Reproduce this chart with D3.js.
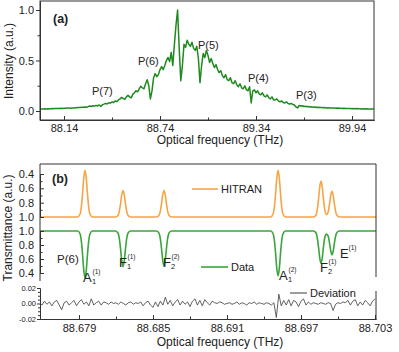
<!DOCTYPE html>
<html>
<head>
<meta charset="utf-8">
<script src="https://cdn.jsdelivr.net/npm/d3@7/dist/d3.min.js"></script>
<style>
body { margin: 0; background: #fff; }
text { font-family: "Liberation Sans", Arial, sans-serif; fill: #222; }
</style>
</head>
<body>
<svg id="chart" width="399" height="352"></svg>
<script>
//----- data, panel (a): comb spectrum sampled every 0.01 THz
var aStart = 87.99, aStep = 0.01;
var intensity = [
  0.02,0.021,0.019,0.022,0.02,0.023,0.021,0.024,0.022,0.025,
  0.024,0.026,0.025,0.027,0.026,0.028,0.027,0.029,0.03,0.028,
  0.031,0.03,0.033,0.032,0.035,0.034,0.037,0.036,0.04,0.038,
  0.043,0.05,0.045,0.052,0.048,0.056,0.05,0.06,0.045,0.062,
  0.068,0.075,0.07,0.082,0.078,0.09,0.085,0.1,0.093,0.11,
  0.12,0.135,0.125,0.115,0.14,0.155,0.14,0.13,0.165,0.18,
  0.2,0.19,0.22,0.245,0.23,0.22,0.27,0.31,0.25,0.12,
  0.2,0.33,0.37,0.34,0.36,0.41,0.44,0.41,0.45,0.5,
  0.53,0.49,0.58,0.45,0.66,0.85,1.0,0.62,0.3,0.45,
  0.66,0.63,0.7,0.66,0.64,0.68,0.62,0.6,0.64,0.52,
  0.28,0.45,0.57,0.53,0.6,0.55,0.48,0.52,0.47,0.43,
  0.46,0.41,0.38,0.4,0.35,0.33,0.36,0.31,0.3,0.33,
  0.28,0.27,0.3,0.26,0.24,0.27,0.23,0.22,0.25,0.21,
  0.2,0.24,0.08,0.2,0.21,0.18,0.2,0.17,0.16,0.18,
  0.15,0.14,0.16,0.13,0.12,0.14,0.11,0.11,0.12,0.1,
  0.09,0.1,0.085,0.08,0.09,0.075,0.07,0.075,0.065,0.06,
  0.04,0.03,0.055,0.05,0.052,0.045,0.047,0.042,0.044,0.04,
  0.041,0.037,0.039,0.035,0.037,0.034,0.035,0.032,0.034,0.031,
  0.032,0.03,0.031,0.029,0.03,0.028,0.029,0.027,0.028,0.026,
  0.027,0.025,0.026,0.024,0.025,0.023,0.024,0.023,0.024,0.022,
  0.023,0.021,0.022,0.021,0.022,0.02,0.021,0.02,0.021,0.02
];
var aTicks = [88.14, 88.74, 89.34, 89.94];
var aMinor = [88.44, 89.04, 89.64];
var aYTicks = [0, 0.5, 1.0];
var aYMinor = [0.25, 0.75];

//----- data, panel (b): [frequency THz, transmittance]
var hitran = [
  [88.6755,1],
  [88.67889,1],[88.67909,0.959],[88.67919,0.864],[88.67929,0.675],[88.67939,0.454],[88.67949,0.35],
  [88.67959,0.454],[88.67969,0.675],[88.67979,0.864],[88.67989,0.959],[88.68009,1],
  [88.68197,1],[88.68217,0.977],[88.68227,0.922],[88.68237,0.815],[88.68247,0.689],[88.68257,0.63],
  [88.68267,0.689],[88.68277,0.815],[88.68287,0.922],[88.68297,0.977],[88.68317,1],
  [88.68529,1],[88.68549,0.977],[88.68559,0.922],[88.68569,0.815],[88.68579,0.689],[88.68589,0.63],
  [88.68599,0.689],[88.68609,0.815],[88.68619,0.922],[88.68629,0.977],[88.68649,1],
  [88.69454,1],[88.69474,0.959],[88.69484,0.864],[88.69494,0.675],[88.69504,0.454],[88.69514,0.35],
  [88.69524,0.454],[88.69534,0.675],[88.69544,0.864],[88.69554,0.959],[88.69574,1],
  [88.69802,1],[88.69822,0.969],[88.69832,0.895],[88.69842,0.75],[88.69852,0.58],[88.69862,0.5],
  [88.69872,0.58],[88.69882,0.75],[88.69892,0.893],[88.69907,0.965],[88.69921,0.923],[88.69931,0.82],
  [88.69941,0.698],[88.69951,0.64],[88.69961,0.698],[88.69971,0.82],[88.69981,0.924],[88.69991,0.977],[88.70011,1],
  [88.7035,1]
];
var measured = [
  [88.6755,1],
  [88.67889,1],[88.67909,0.958],[88.67919,0.859],[88.67929,0.665],[88.67939,0.437],[88.67949,0.33],
  [88.67959,0.437],[88.67969,0.665],[88.67979,0.859],[88.67989,0.958],[88.68009,1],
  [88.68197,1],[88.68217,0.968],[88.68227,0.893],[88.68237,0.745],[88.68247,0.572],[88.68257,0.49],
  [88.68267,0.572],[88.68277,0.745],[88.68287,0.893],[88.68297,0.968],[88.68317,1],
  [88.68529,1],[88.68549,0.969],[88.68559,0.895],[88.68569,0.75],[88.68579,0.58],[88.68589,0.5],
  [88.68599,0.58],[88.68609,0.75],[88.68619,0.895],[88.68629,0.969],[88.68649,1],
  [88.69454,1],[88.69474,0.96],[88.69484,0.866],[88.69494,0.68],[88.69504,0.462],[88.69514,0.36],
  [88.69524,0.462],[88.69534,0.68],[88.69544,0.866],[88.69554,0.96],[88.69574,1],
  [88.69802,1],[88.69822,0.971],[88.69832,0.903],[88.69842,0.77],[88.69852,0.614],[88.69862,0.54],
  [88.69872,0.614],[88.69882,0.77],[88.69892,0.9],[88.69907,0.955],[88.69921,0.925],[88.69931,0.83],
  [88.69941,0.714],[88.69951,0.66],[88.69961,0.714],[88.69971,0.83],[88.69981,0.929],[88.69991,0.979],[88.70011,1],
  [88.7035,1]
];
// residual, sampled every 0.0002 THz
var devStart = 88.6758, devStep = 0.0002;
var deviation = [
  0.001,-0.002,0.003,-0.001,0.002,-0.003,0.002,0.004,-0.002,-0.008,
  0.001,0.003,-0.002,0.001,0.004,-0.003,0.002,0.005,-0.001,0.002,
  -0.003,0.006,-0.002,0.001,0.003,-0.002,0.002,0.001,-0.001,0.002,
  0.0,0.001,-0.001,0.002,0.0,-0.002,0.001,0.002,-0.001,0.001,
  0.0,0.002,-0.003,0.001,0.003,-0.002,-0.005,0.002,-0.004,0.003,
  -0.002,0.008,-0.001,0.004,-0.003,0.002,0.005,-0.002,0.003,-0.001,
  0.002,-0.004,0.003,0.006,-0.002,0.004,-0.003,0.005,0.001,-0.002,
  0.003,0.001,0.0,0.002,0.001,-0.001,0.0,0.001,-0.001,0.0,
  0.002,-0.001,0.001,0.0,-0.002,0.001,0.0,0.002,-0.001,0.001,
  0.0,-0.001,0.001,0.0,-0.002,0.001,-0.018,0.012,-0.003,0.004,
  -0.002,0.005,-0.003,0.004,0.002,-0.004,0.003,0.006,-0.002,0.002,
  -0.001,0.001,0.0,-0.001,0.001,0.0,-0.001,0.001,0.0,-0.009,
  -0.001,0.001,0.0,0.002,0.001,0.004,-0.002,0.003,0.005,-0.003,
  0.002,-0.002,0.004,0.001,-0.003,0.003,0.006
];
var bTicks = [88.679, 88.685, 88.691, 88.697, 88.703];
var bMinor = [88.682, 88.688, 88.694, 88.700];
var tTicks = [0.4, 0.6, 0.8, 1.0];
var tMinor = [0.5, 0.7, 0.9];
var devTicks = [-0.02, 0, 0.02];
var devMinor = [-0.015, -0.01, -0.005, 0.005, 0.01, 0.015];

var ORANGE = "#f6a444", GREEN_A = "#1f8a1f", GREEN_B = "#3aa53a", INK = "#333";

var svg = d3.select("#chart");

//----- panel (a)
var xa = d3.scaleLinear().domain([87.99, 90.0775]).range([40, 374]);
var ya = d3.scaleLinear().domain([-0.089, 1.089]).range([120, 1]);

svg.append("clipPath").attr("id", "clipA")
  .append("rect").attr("x", 40).attr("y", 1).attr("width", 334).attr("height", 119);

var lineA = d3.line()
  .x(function(d, i) { return xa(aStart + i * aStep); })
  .y(function(d) { return ya(d); });

svg.append("path")
  .datum(intensity)
  .attr("clip-path", "url(#clipA)")
  .attr("d", lineA)
  .attr("fill", "none")
  .attr("stroke", GREEN_A)
  .attr("stroke-width", 1.5)
  .attr("stroke-linejoin", "round");

svg.append("rect").attr("x", 40).attr("y", 1).attr("width", 334).attr("height", 119)
  .attr("fill", "none").attr("stroke", INK).attr("stroke-width", 1);

svg.append("g").attr("transform", "translate(0,120)")
  .call(d3.axisBottom(xa).tickValues(aTicks).tickFormat(d3.format(".2f"))
    .tickSizeInner(-4).tickSizeOuter(0).tickPadding(4));
svg.append("g").attr("transform", "translate(0,120)")
  .call(d3.axisBottom(xa).tickValues(aMinor).tickFormat("").tickSizeInner(-2.5).tickSizeOuter(0));

svg.append("g").attr("transform", "translate(40,0)")
  .call(d3.axisLeft(ya).tickValues(aYTicks).tickFormat(d3.format(".1f"))
    .tickSizeInner(4).tickSizeOuter(0).tickPadding(2));
svg.append("g").attr("transform", "translate(40,0)")
  .call(d3.axisLeft(ya).tickValues(aYMinor).tickFormat("").tickSizeInner(2.5).tickSizeOuter(0));

// band labels
var aNotes = [["P(7)", 92, 95], ["P(6)", 138, 65], ["P(5)", 198, 49], ["P(4)", 248, 82], ["P(3)", 296, 99]];
svg.selectAll(".pnote").data(aNotes).enter().append("text")
  .attr("x", function(d) { return d[1]; })
  .attr("y", function(d) { return d[2]; })
  .attr("font-size", 11)
  .text(function(d) { return d[0]; });

svg.append("text").attr("x", 53).attr("y", 23).attr("font-size", 12.5)
  .attr("font-weight", "bold").text("(a)");
svg.append("text").attr("x", 220).attr("y", 144).attr("text-anchor", "middle")
  .attr("font-size", 12).text("Optical frequency (THz)");
svg.append("text").attr("transform", "translate(13,61) rotate(-90)")
  .attr("text-anchor", "middle").attr("font-size", 12).text("Intensity (a.u.)");

//----- panel (b)
var xb = d3.scaleLinear().domain([88.67584, 88.70308]).range([40, 376]);
var yO = d3.scaleLinear().domain([0.4, 1.0]).range([174, 217]);
var yG = d3.scaleLinear().domain([1.0, 0.4]).range([231, 273]);
var yD = d3.scaleLinear().domain([-0.02, 0.02]).range([319, 288]);

svg.append("clipPath").attr("id", "clipB")
  .append("rect").attr("x", 40).attr("y", 164).attr("width", 336).attr("height", 120);
svg.append("clipPath").attr("id", "clipD")
  .append("rect").attr("x", 40).attr("y", 284).attr("width", 336).attr("height", 35);

svg.append("path")
  .datum(hitran)
  .attr("clip-path", "url(#clipB)")
  .attr("d", d3.line().curve(d3.curveMonotoneX)
    .x(function(d) { return xb(d[0]); }).y(function(d) { return yO(d[1]); }))
  .attr("fill", "none").attr("stroke", ORANGE).attr("stroke-width", 1.6);

svg.append("path")
  .datum(measured)
  .attr("clip-path", "url(#clipB)")
  .attr("d", d3.line().curve(d3.curveMonotoneX)
    .x(function(d) { return xb(d[0]); }).y(function(d) { return yG(d[1]); }))
  .attr("fill", "none").attr("stroke", GREEN_B).attr("stroke-width", 1.6);

svg.append("path")
  .datum(deviation)
  .attr("clip-path", "url(#clipD)")
  .attr("d", d3.line()
    .x(function(d, i) { return xb(devStart + i * devStep); }).y(function(d) { return yD(d); }))
  .attr("fill", "none").attr("stroke", "#3a3a3a").attr("stroke-width", 0.8);

// frame pieces
svg.append("path")
  .attr("d", "M40,281V164H376V277")
  .attr("fill", "none").attr("stroke", INK).attr("stroke-width", 1);
svg.append("path")
  .attr("d", "M376,291V319")
  .attr("fill", "none").attr("stroke", INK).attr("stroke-width", 1);

// left axes of the spectra
svg.append("g").attr("transform", "translate(40,0)")
  .call(d3.axisLeft(yO).tickValues(tTicks).tickFormat(d3.format(".1f"))
    .tickSizeInner(-4).tickSizeOuter(0).tickPadding(6));
svg.append("g").attr("transform", "translate(40,0)")
  .call(d3.axisLeft(yO).tickValues(tMinor).tickFormat("").tickSizeInner(-2.5).tickSizeOuter(0));
svg.append("g").attr("transform", "translate(40,0)")
  .call(d3.axisLeft(yG).tickValues(tTicks).tickFormat(d3.format(".1f"))
    .tickSizeInner(-4).tickSizeOuter(0).tickPadding(6));
svg.append("g").attr("transform", "translate(40,0)")
  .call(d3.axisLeft(yG).tickValues(tMinor).tickFormat("").tickSizeInner(-2.5).tickSizeOuter(0));

// deviation axis
var gyd = svg.append("g").attr("transform", "translate(40,0)")
  .call(d3.axisLeft(yD).tickValues(devTicks).tickFormat(function(d) { return d.toFixed(2); })
    .tickSizeInner(3).tickSizeOuter(0).tickPadding(1));
svg.append("g").attr("transform", "translate(40,0)")
  .call(d3.axisLeft(yD).tickValues(devMinor).tickFormat("").tickSizeInner(2).tickSizeOuter(0));

svg.append("g").attr("transform", "translate(0,319)")
  .call(d3.axisBottom(xb).tickValues(bTicks).tickFormat(d3.format(".3f"))
    .tickSizeInner(-4).tickSizeOuter(0).tickPadding(5));
svg.append("g").attr("transform", "translate(0,319)")
  .call(d3.axisBottom(xb).tickValues(bMinor).tickFormat("").tickSizeInner(-2.5).tickSizeOuter(0));

// uniform axis styling
svg.selectAll(".domain").attr("stroke", INK);
svg.selectAll(".tick line").attr("stroke", INK);
svg.selectAll(".tick text").attr("fill", "#222")
  .style("font-family", '"Liberation Sans", Arial, sans-serif')
  .attr("font-size", 11);
gyd.selectAll(".tick text").attr("font-size", 7.5);

// legends
function legend(x1, x2, y, color, label, w) {
  svg.append("line").attr("x1", x1).attr("x2", x2).attr("y1", y).attr("y2", y)
    .attr("stroke", color).attr("stroke-width", w);
  svg.append("text").attr("x", x2 + 3).attr("y", y + 4).attr("font-size", 11).text(label);
}
legend(192, 218, 189, ORANGE, "HITRAN", 1.6);
legend(201, 228, 267, GREEN_B, "Data", 1.6);
legend(290, 307, 293, "#3a3a3a", "Deviation", 1);

// line assignments: letter, subscript, superscript
function sym(x, y, letter, sub, sup) {
  svg.append("text").attr("x", x).attr("y", y).attr("font-size", 13).text(letter);
  var w = letter === "A" ? 9 : 8;
  if (sub) svg.append("text").attr("x", x + w).attr("y", y + 2).attr("font-size", 7.5).text(sub);
  if (sup) svg.append("text").attr("x", x + w + 0.5).attr("y", y - 8).attr("font-size", 6.5).text(sup);
}
sym(83, 282, "A", "1", "(1)");
sym(119, 267, "F", "1", "(1)");
sym(163, 267, "F", "2", "(2)");
sym(279, 280, "A", "1", "(2)");
sym(320, 272, "F", "2", "(1)");
sym(340, 258, "E", null, "(1)");

svg.append("text").attr("x", 57).attr("y", 263).attr("font-size", 11.5).text("P(6)");
svg.append("text").attr("x", 52).attr("y", 183).attr("font-size", 12.5)
  .attr("font-weight", "bold").text("(b)");
svg.append("text").attr("x", 220).attr("y", 346).attr("text-anchor", "middle")
  .attr("font-size", 12).text("Optical frequency (THz)");
svg.append("text").attr("transform", "translate(12,228) rotate(-90)")
  .attr("text-anchor", "middle").attr("font-size", 12).text("Transmittance (a.u.)");
</script>
</body>
</html>
